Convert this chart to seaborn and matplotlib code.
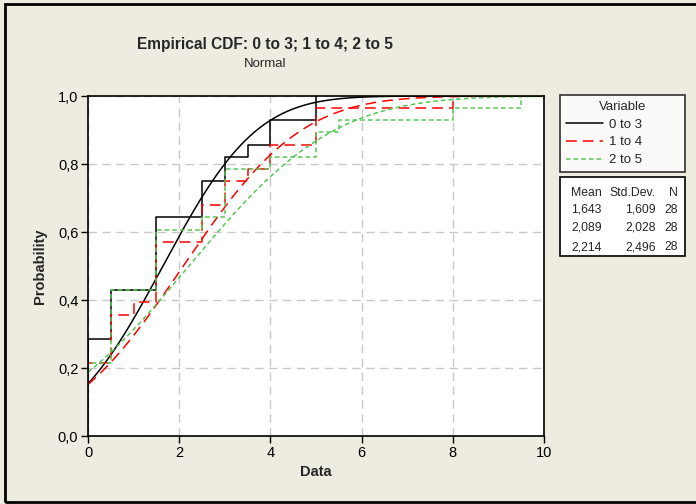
import math
import numpy as np
import pandas as pd
import seaborn as sns
import matplotlib
matplotlib.use("Agg")
import matplotlib.pyplot as plt
from matplotlib.patches import Rectangle
from matplotlib.lines import Line2D

# ---- data ----
series_names = ["0 to 3", "1 to 4", "2 to 5"]
vals_0_3 = [0]*8 + [0.5]*4 + [1.5]*6 + [2.5]*3 + [3]*2 + [3.5]*1 + [4]*2 + [5]*2
vals_1_4 = [0]*6 + [0.5]*4 + [1]*1 + [1.5]*5 + [2.5]*3 + [3]*2 + [3.5]*1 + [4]*2 + [5]*3 + [8]*1
vals_2_5 = [0]*6 + [0.5]*6 + [1.5]*5 + [2.5]*1 + [3]*4 + [4]*1 + [5]*2 + [5.5]*1 + [8]*1 + [9.5]*1
means = [1.643, 2.089, 2.214]
sds = [1.609, 2.028, 2.496]
ns = [28, 28, 28]
mean_labels = ["1,643", "2,089", "2,214"]
sd_labels = ["1,609", "2,028", "2,496"]
x_ticks = [0, 2, 4, 6, 8, 10]
x_ticklabels = ["0", "2", "4", "6", "8", "10"]
y_ticks = [0.0, 0.2, 0.4, 0.6, 0.8, 1.0]
y_ticklabels = ["0,0", "0,2", "0,4", "0,6", "0,8", "1,0"]

colors = ["#000000", "#FF0000", "#55C855"]
dashes = [(None, None), (0, (7, 4)), (0, (3, 2))]

W, H = 696, 504
BG = "#EEEBE1"

sns.set_theme(style="white")
plt.rcParams["font.family"] = ["Liberation Sans Narrow", "Liberation Sans", "DejaVu Sans"]

fig = plt.figure(figsize=(W/100, H/100), dpi=100, facecolor=BG)

def fx(px):
    return px / W

def fy(py):
    return 1 - py / H

ax = fig.add_axes([fx(88), fy(436), fx(544) - fx(88), fy(96) - fy(436)])
ax.set_facecolor("white")

df = pd.DataFrame({
    "Data": vals_0_3 + vals_1_4 + vals_2_5,
    "Variable": [series_names[0]]*len(vals_0_3) + [series_names[1]]*len(vals_1_4) + [series_names[2]]*len(vals_2_5),
})

xs = np.linspace(0, 10, 400)
erf = np.vectorize(math.erf)
handles = []
for i, name in enumerate(series_names):
    sub = df[df["Variable"] == name]
    ls = "-" if i == 0 else dashes[i]
    sns.ecdfplot(data=sub, x="Data", ax=ax, color=colors[i], linestyle=ls, linewidth=1.1)
    cdf = 0.5 * (1 + erf((xs - means[i]) / (sds[i] * math.sqrt(2))))
    sns.lineplot(x=xs, y=cdf, ax=ax, color=colors[i], linestyle=ls, linewidth=1.1)
    handles.append(Line2D([], [], color=colors[i], linestyle=ls, linewidth=1.1))

ax.set_xlim(0, 10)
ax.set_ylim(0, 1)
ax.set_xticks(x_ticks)
ax.set_xticklabels(x_ticklabels)
ax.set_yticks(y_ticks)
ax.set_yticklabels(y_ticklabels)
ax.grid(True, color="#C8C8C8", linestyle=(0, (6, 4)), linewidth=1)
ax.set_axisbelow(True)
for s in ax.spines.values():
    s.set_color("black")
    s.set_linewidth(1.2)
ax.tick_params(axis="both", direction="out", length=5, width=1, color="black",
               labelsize=10.5, labelcolor="black", bottom=True, left=True, pad=2)
ax.set_xlabel("Data", fontsize=10.5, fontweight="bold", labelpad=4)
ax.set_ylabel("Probability", fontsize=10.5, fontweight="bold", labelpad=8)

# titles
fig.text(fx(265), fy(44), "Empirical CDF: 0 to 3; 1 to 4; 2 to 5", ha="center", va="center",
         fontsize=11.2, fontweight="bold")
fig.text(fx(265), fy(64), "Normal", ha="center", va="center", fontsize=9.5)

# legend
leg = fig.legend(handles, series_names, title="Variable", loc="upper left",
                 bbox_to_anchor=(fx(560), fy(95), fx(685) - fx(560), 0.0), mode="expand",
                 borderaxespad=0.0,
                 frameon=True, fancybox=False, fontsize=9.5, title_fontsize=9.5,
                 handlelength=2.8, labelspacing=0.42, borderpad=0.45, handletextpad=0.5)
leg.get_frame().set_edgecolor("black")
leg.get_frame().set_linewidth(1.2)
leg.get_frame().set_facecolor("white")

# stats box
fig.add_artist(Rectangle((fx(560), fy(256)), fx(685) - fx(560), fy(177) - fy(256),
                         transform=fig.transFigure, facecolor="white", edgecolor="black", lw=1.2))
fs = 8.8
fig.text(fx(602), fy(196), "Mean", ha="right", va="baseline", fontsize=fs)
fig.text(fx(656), fy(196), "Std.Dev.", ha="right", va="baseline", fontsize=fs)
fig.text(fx(678), fy(196), "N", ha="right", va="baseline", fontsize=fs)
row_y = [213, 231, 250]
for i in range(3):
    fig.text(fx(602), fy(row_y[i]), mean_labels[i], ha="right", va="baseline", fontsize=fs)
    fig.text(fx(656), fy(row_y[i]), sd_labels[i], ha="right", va="baseline", fontsize=fs)
    fig.text(fx(678), fy(row_y[i]), str(ns[i]), ha="right", va="baseline", fontsize=fs)

# outer frame
fig.add_artist(Rectangle((fx(5), fy(502)), fx(700) - fx(5), fy(4) - fy(502),
                         transform=fig.transFigure, facecolor="none", edgecolor="black", lw=2))

fig.savefig("out.png", dpi=100, facecolor=BG)
